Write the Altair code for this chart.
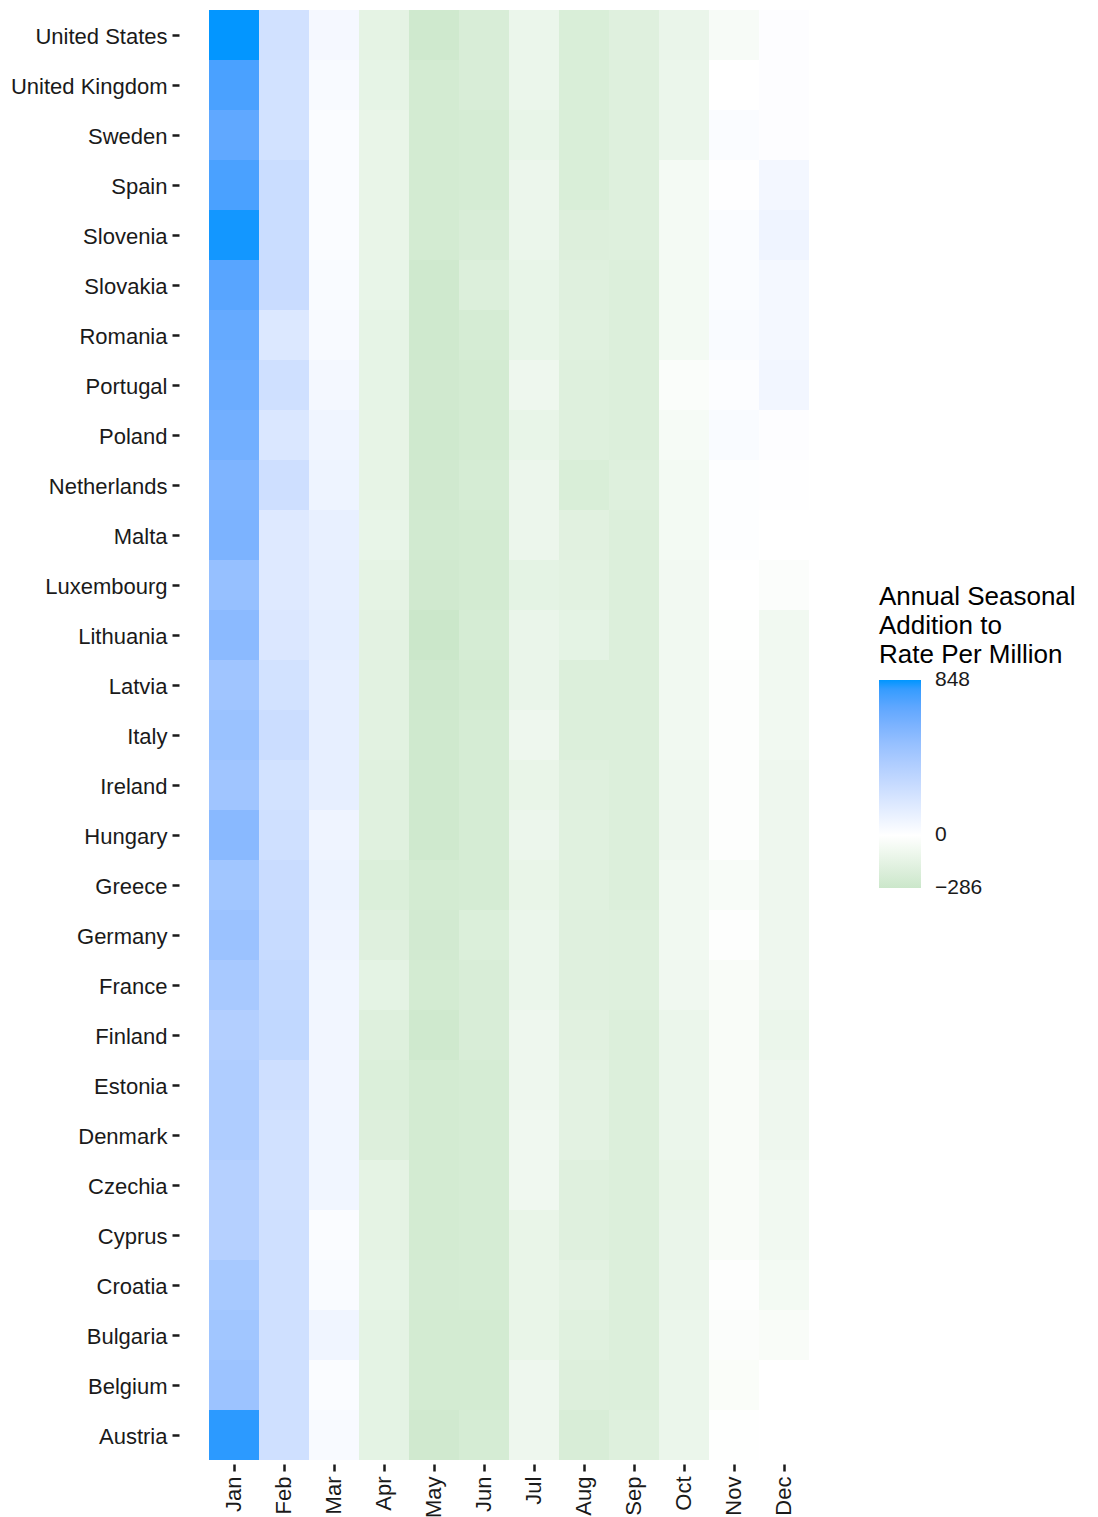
import altair as alt
import pandas as pd

countries = ["United States", "United Kingdom", "Sweden", "Spain", "Slovenia", "Slovakia",
             "Romania", "Portugal", "Poland", "Netherlands", "Malta", "Luxembourg",
             "Lithuania", "Latvia", "Italy", "Ireland", "Hungary", "Greece", "Germany",
             "France", "Finland", "Estonia", "Denmark", "Czechia", "Cyprus", "Croatia",
             "Bulgaria", "Belgium", "Austria"]
months = ["Jan", "Feb", "Mar", "Apr", "May", "Jun", "Jul", "Aug", "Sep", "Oct", "Nov", "Dec"]

jan = [848, 755, 695, 757, 840, 720, 680, 660, 636, 595, 603, 500, 543, 458, 483, 458, 551,
       450, 479, 420, 373, 390, 390, 364, 364, 424, 450, 475, 814]
feb = [230, 226, 226, 265, 265, 270, 178, 240, 187, 245, 168, 168, 183, 226, 260, 226, 240,
       270, 280, 297, 305, 245, 230, 230, 240, 240, 240, 240, 240]
mar = [50, 36, 25, 25, 25, 30, 36, 55, 76, 87, 114, 120, 130, 120, 120, 120, 82,
       93, 82, 72, 66, 66, 72, 72, 25, 30, 76, 25, 36]
apr = [-143, -137, -121, -121, -121, -126, -137, -137, -132, -132, -126, -143, -154, -160, -160,
       -170, -170, -198, -176, -148, -181, -198, -187, -143, -143, -137, -148, -148, -148]
may = [-264, -242, -242, -242, -242, -264, -264, -259, -264, -259, -253, -259, -286, -270, -264,
       -264, -264, -242, -248, -242, -264, -242, -242, -242, -242, -237, -242, -242, -259]
jun = [-214, -214, -231, -231, -214, -192, -231, -242, -242, -231, -242, -242, -231, -242, -231,
       -231, -231, -231, -198, -214, -214, -231, -231, -231, -231, -231, -242, -242, -231]
jul = [-110, -110, -126, -104, -110, -126, -126, -93, -126, -104, -104, -148, -115, -115, -93,
       -121, -104, -121, -110, -110, -93, -93, -83, -83, -121, -121, -121, -93, -93]
aug = [-209, -209, -209, -209, -187, -176, -170, -181, -181, -209, -165, -160, -148, -192, -192,
       -176, -170, -170, -176, -176, -165, -154, -154, -176, -176, -154, -170, -187, -214]
sep = [-176, -181, -181, -181, -181, -192, -192, -192, -192, -181, -192, -192, -192, -192, -192,
       -192, -192, -192, -181, -181, -192, -192, -192, -192, -192, -192, -192, -192, -181]
oct_ = [-115, -110, -110, -60, -60, -66, -66, -27, -50, -66, -66, -71, -77, -77, -77,
        -88, -93, -77, -77, -83, -110, -110, -110, -121, -115, -115, -110, -110, -110]
nov = [-44, 0, 25, 5, 25, 25, 30, 15, 30, 10, 10, 0, -5, -10, -10,
       -10, -10, -40, -10, -35, -35, -35, -35, -35, -35, -10, -20, -30, -5]
dec = [12, 12, 12, 60, 82, 55, 55, 66, 12, 5, 0, -20, -77, -77, -77,
       -93, -93, -93, -93, -93, -110, -93, -93, -77, -77, -66, -35, 0, 0]

legend_values = [-286, 0, 848]

cols = [jan, feb, mar, apr, may, jun, jul, aug, sep, oct_, nov, dec]
rows = []
for m, col in zip(months, cols):
    for c, v in zip(countries, col):
        rows.append({"country": c, "month": m, "value": v})
df = pd.DataFrame(rows)

FONT = "Liberation Sans"

chart = alt.Chart(df).mark_rect(strokeWidth=0).encode(
    x=alt.X("month:N", sort=months, title=None,
            scale=alt.Scale(paddingInner=0, paddingOuter=0),
            axis=alt.Axis(labelAngle=270, labelFontSize=22, labelColor="#1a1a1a",
                          labelFont=FONT, tickSize=7, tickWidth=2.5, tickColor="#1a1a1a",
                          domain=False, offset=4, labelPadding=5, grid=False)),
    y=alt.Y("country:N", sort=countries, title=None,
            scale=alt.Scale(paddingInner=0, paddingOuter=0),
            axis=alt.Axis(labelFontSize=22, labelColor="#1a1a1a", labelFont=FONT,
                          tickSize=7, tickWidth=2.5, tickColor="#1a1a1a", labelOffset=2,
                          domain=False, offset=30, labelPadding=5, grid=False)),
    color=alt.Color("value:Q",
                    scale=alt.Scale(domain=[-287.5, 0, 849.5],
                                    range=["#CBE7CA", "#FFFFFF", "#0096FF"],
                                    interpolate="lab"),
                    legend=alt.Legend(title=["Annual Seasonal", "Addition to", "Rate Per Million"],
                                      titleFontSize=26, titleFont=FONT, titleFontWeight="normal",
                                      titleColor="#000000", titleLineHeight=29, titlePadding=12,
                                      titleLimit=500,
                                      labelFontSize=21, labelFont=FONT, labelColor="#1a1a1a",
                                      labelBaseline="middle", labelOffset=14,
                                      labelOverlap=False,
                                      values=legend_values, direction="vertical",
                                      gradientLength=208, gradientThickness=42,
                                      orient="none", legendX=670, legendY=574)),
).properties(
    width=600, height=1450,
    autosize=alt.AutoSizeParams(type="none"),
    padding={"left": 209, "top": 10, "right": 289, "bottom": 57},
    background="white",
).configure_view(stroke=None)

chart.save("out.html", embed_options={"renderer": "svg", "actions": False})
